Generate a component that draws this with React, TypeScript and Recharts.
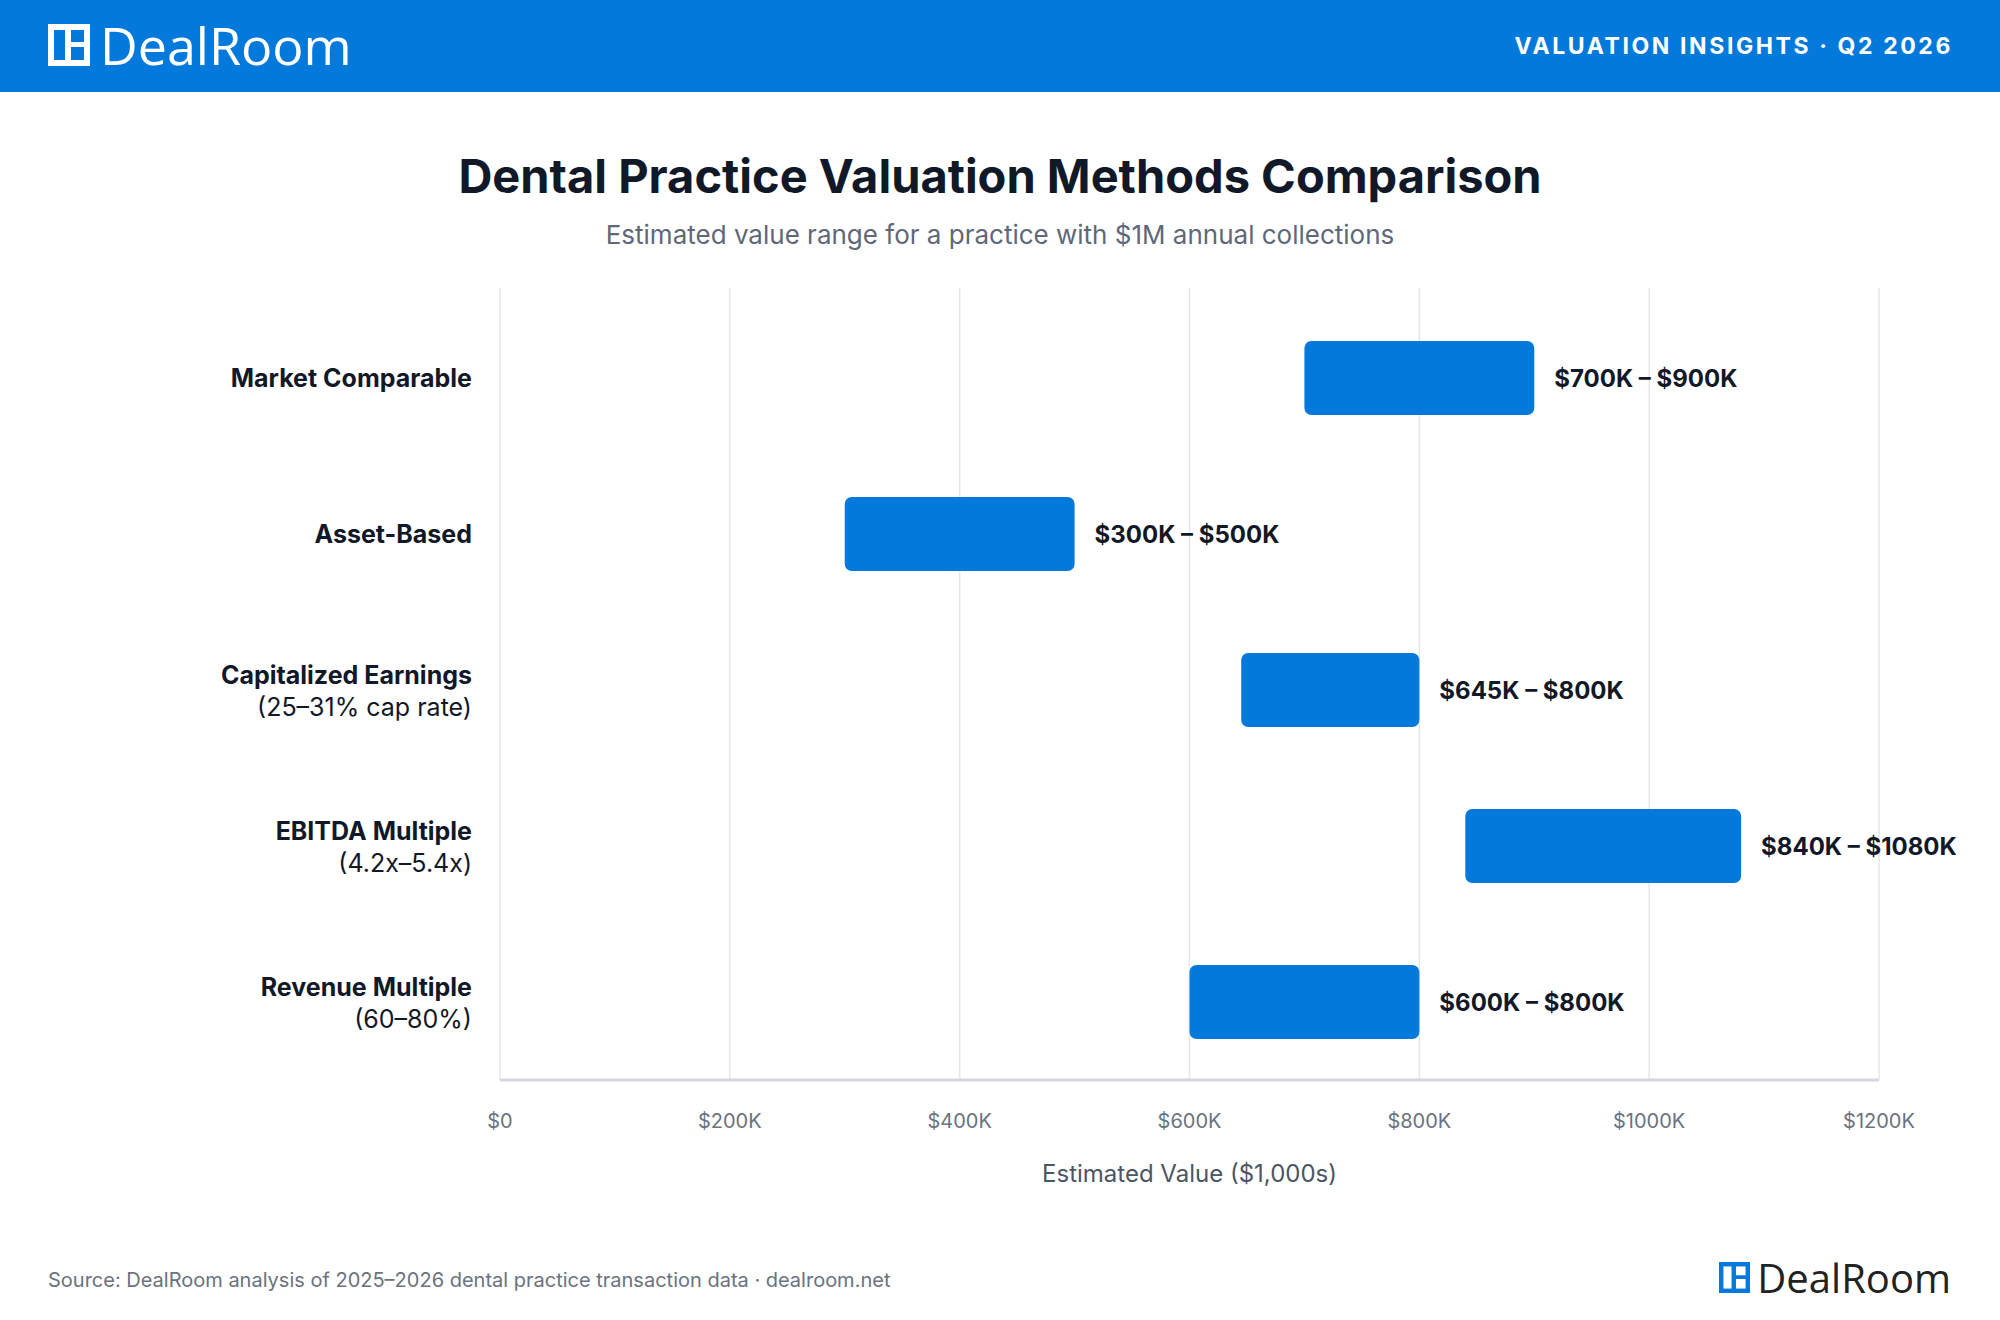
import React from 'react';
import { BarChart, Bar, XAxis, YAxis, CartesianGrid, LabelList } from 'recharts';

// Valuation ranges in $K for a practice with $1M collections
const methods = ['Market Comparable', 'Asset-Based', 'Capitalized Earnings', 'EBITDA Multiple', 'Revenue Multiple'];
const methodNotes = ['', '', '(25–31% cap rate)', '(4.2x–5.4x)', '(60–80%)'];
const lowValues = [700, 300, 645, 840, 600];
const highValues = [900, 500, 800, 1080, 800];
const xTicks = [0, 200, 400, 600, 800, 1000, 1200];

const BLUE = '#0479DC';
const INK = '#111827';
const FONT = 'Inter, "Noto Sans", sans-serif';

const data = methods.map((method, i) => ({
  method,
  range: [lowValues[i], highValues[i]],
  label: `$${lowValues[i]}K – $${highValues[i]}K`,
}));

const formatTick = (v: number) => (v === 0 ? '$0' : `$${v}K`);

function MethodTick(props: any) {
  const { x, y, payload } = props;
  const note = methodNotes[methods.indexOf(payload.value)];
  if (!note) {
    return (
      <text x={x} y={y} dy="0.35em" textAnchor="end" fontFamily={FONT} fontSize={25} fontWeight={700} fill={INK}>
        {payload.value}
      </text>
    );
  }
  return (
    <text x={x} textAnchor="end" fontFamily={FONT} fontSize={25} fill={INK}>
      <tspan x={x} y={y - 15} dy="0.35em" fontWeight={700}>{payload.value}</tspan>
      <tspan x={x} y={y + 17} dy="0.35em" fontWeight={400}>{note}</tspan>
    </text>
  );
}

// DealRoom mark: filled square with a tall slot on the left and two small slots on the right
function LogoIcon({ size, color, cutout }: { size: number; color: string; cutout: string }) {
  return (
    <svg width={size} height={size} viewBox="0 0 42 42" style={{ display: 'block' }}>
      <rect x={0} y={0} width={42} height={42} fill={color} />
      <rect x={6} y={6} width={11} height={30} fill={cutout} />
      <rect x={23} y={6} width={13} height={12} fill={cutout} />
      <rect x={23} y={23} width={13} height={13} fill={cutout} />
    </svg>
  );
}

export default function App() {
  return (
    <div style={{ position: 'absolute', left: 0, top: 0, width: 2000, height: 1320, background: '#fff', fontFamily: FONT, overflow: 'hidden' }}>
      {/* header band */}
      <div style={{ position: 'absolute', left: 0, top: 0, width: 2000, height: 92, background: BLUE }}>
        <div style={{ position: 'absolute', left: 48, top: 24, display: 'flex', alignItems: 'center' }}>
          <LogoIcon size={42} color="#fff" cutout={BLUE} />
          <span style={{ marginLeft: 10, color: '#fff', fontFamily: '"Open Sans", sans-serif', fontSize: 52, lineHeight: '42px' }}>DealRoom</span>
        </div>
        <div style={{ position: 'absolute', right: 47, top: 32, color: '#fff', fontSize: 23, fontWeight: 700, letterSpacing: 2.6, lineHeight: '28px' }}>
          VALUATION INSIGHTS · Q2 2026
        </div>
      </div>

      <div style={{ position: 'absolute', left: 0, top: 146, width: 2000, textAlign: 'center', fontSize: 47, fontWeight: 700, color: INK, lineHeight: '60px' }}>
        Dental Practice Valuation Methods Comparison
      </div>
      <div style={{ position: 'absolute', left: 0, top: 219, width: 2000, textAlign: 'center', fontSize: 26, color: '#5F6878', lineHeight: '32px' }}>
        Estimated value range for a practice with $1M annual collections
      </div>

      <div style={{ position: 'absolute', left: 0, top: 0 }}>
        <BarChart
          width={2000}
          height={1200}
          data={data}
          layout="vertical"
          margin={{ top: 288, right: 121, bottom: 10, left: 0 }}
        >
          <CartesianGrid horizontal={false} stroke="#E5E7EB" strokeWidth={1.5} />
          <XAxis
            type="number"
            domain={[0, 1200]}
            ticks={xTicks}
            tickFormatter={formatTick}
            height={110}
            tickLine={false}
            tickSize={0}
            tickMargin={34}
            axisLine={{ stroke: '#D5D7DF', strokeWidth: 3 }}
            tick={{ fill: '#6B7280', fontSize: 20, fontFamily: FONT }}
            label={{ value: 'Estimated Value ($1,000s)', position: 'insideBottom', offset: 8, fill: '#4B5563', fontSize: 24, fontFamily: FONT }}
          />
          <YAxis
            type="category"
            dataKey="method"
            width={500}
            padding={{ top: 12, bottom: 0 }}
            axisLine={false}
            tickLine={false}
            tickSize={0}
            tickMargin={28}
            tick={<MethodTick />}
          />
          <Bar dataKey="range" fill={BLUE} barSize={74} radius={7} isAnimationActive={false}>
            <LabelList
              dataKey="label"
              position="right"
              offset={20}
              fill={INK}
              fontSize={24}
              fontWeight={700}
              fontFamily={FONT}
            />
          </Bar>
        </BarChart>
      </div>

      {/* footer */}
      <div style={{ position: 'absolute', left: 48, top: 1267, fontSize: 20, color: '#6B7280', lineHeight: '26px' }}>
        Source: DealRoom analysis of 2025–2026 dental practice transaction data · dealroom.net
      </div>
      <div style={{ position: 'absolute', right: 49, top: 1262, display: 'flex', alignItems: 'center' }}>
        <LogoIcon size={31} color={BLUE} cutout="#fff" />
        <span style={{ marginLeft: 7, color: '#222', fontFamily: '"Open Sans", sans-serif', fontSize: 40, lineHeight: '31px' }}>DealRoom</span>
      </div>
    </div>
  );
}
